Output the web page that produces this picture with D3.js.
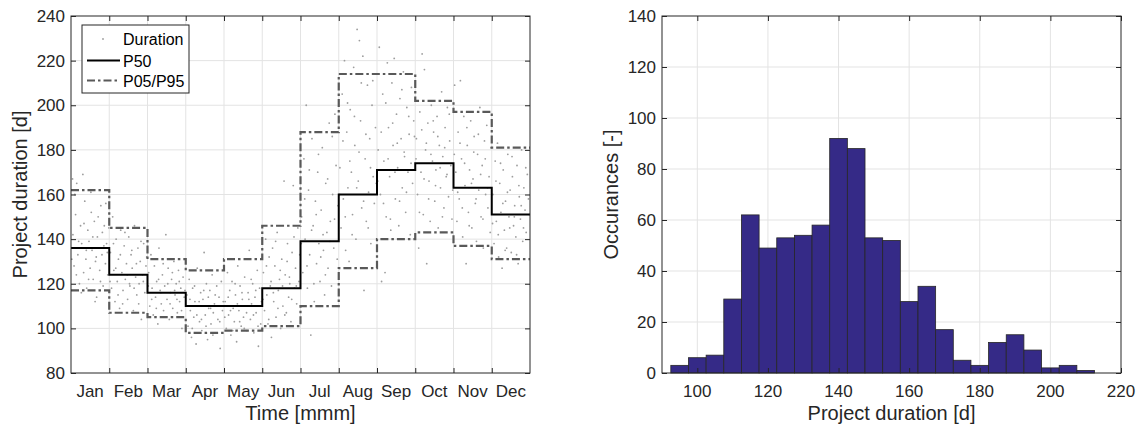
<!DOCTYPE html>
<html>
<head>
<meta charset="utf-8">
<script src="https://cdn.jsdelivr.net/npm/d3@7"></script>
<style>
  body { margin: 0; background: #fff; }
  svg { display: block; font-family: "Liberation Sans", Arial, Helvetica, sans-serif; }
</style>
</head>
<body>
<script>
// Monthly percentiles of project duration (step lines)
const months = ["Jan", "Feb", "Mar", "Apr", "May", "Jun", "Jul", "Aug", "Sep", "Oct", "Nov", "Dec"];
const p50 = [136, 124, 116, 110, 110, 118, 139, 160, 171, 174, 163, 151];
const p95 = [162, 145, 131, 126, 131, 146, 188, 214, 214, 202, 197, 181];
const p05 = [117, 107, 105, 98, 99, 101, 110, 127, 140, 143, 137, 131];

// Individual simulated durations: [month position, duration]
const durations = [
  [0.05,142],[0.08,128],[0.1,160],[0.12,151],[0.15,165],[0.18,133],[0.22,120],[0.25,146],[0.28,138],[0.31,169],[0.33,125],[0.36,157],[0.39,131],[0.41,118],[0.44,144],[0.47,139],[0.5,127],[0.53,152],[0.55,135],[0.58,122],[0.61,148],[0.63,112],[0.64,130],[0.67,114],[0.69,141],[0.72,136],[0.75,126],[0.78,155],[0.81,133],[0.82,143],[0.84,119],[0.87,146],[0.9,129],[0.93,138],[0.96,124],[0.04,167],
  [0.02,131],[0.14,124],[0.2,139],[0.27,116],[0.34,147],[0.4,135],[0.46,122],[0.52,161],[0.57,141],[0.66,132],[0.71,150],[0.77,121],[0.86,137],[0.91,156],[0.95,134],[0.99,145],
  [1.03,134],[1.06,118],[1.09,150],[1.12,126],[1.15,112],[1.18,140],[1.21,121],[1.24,131],[1.27,109],[1.3,144],[1.33,125],[1.36,117],[1.39,137],[1.42,122],[1.45,129],[1.48,113],[1.51,141],[1.54,119],[1.57,133],[1.6,127],[1.63,108],[1.66,146],[1.69,123],[1.72,115],[1.75,136],[1.78,120],[1.81,130],[1.84,104],[1.87,124],[1.9,138],[1.93,116],[1.96,128],
  [1.02,121],[1.11,138],[1.17,127],[1.23,115],[1.29,133],[1.35,111],[1.41,143],[1.47,124],[1.53,120],[1.59,135],[1.65,118],[1.71,129],[1.77,111],[1.83,139],[1.89,121],[1.98,132],
  [2.03,125],[2.06,110],[2.09,133],[2.12,118],[2.15,106],[2.18,128],[2.21,114],[2.24,121],[2.27,102],[2.3,136],[2.33,117],[2.36,111],[2.39,124],[2.42,108],[2.45,119],[2.48,142],[2.51,113],[2.54,127],[2.57,104],[2.6,116],[2.63,122],[2.66,109],[2.69,130],[2.72,115],[2.75,120],[2.78,107],[2.81,126],[2.84,112],[2.87,118],[2.9,100],[2.93,123],[2.96,114],
  [2.02,119],[2.11,113],[2.17,131],[2.23,109],[2.29,122],[2.35,116],[2.41,129],[2.47,105],[2.53,120],[2.59,111],[2.65,125],[2.71,117],[2.77,113],[2.83,121],[2.89,108],[2.98,117],
  [3.03,115],[3.06,101],[3.09,122],[3.12,108],[3.15,96],[3.18,118],[3.21,105],[3.24,112],[3.27,93],[3.3,127],[3.33,110],[3.36,103],[3.39,116],[3.42,99],[3.45,113],[3.48,134],[3.51,106],[3.54,120],[3.57,95],[3.6,109],[3.63,117],[3.66,102],[3.69,124],[3.72,107],[3.75,111],[3.78,98],[3.81,119],[3.84,104],[3.87,114],[3.9,91],[3.93,121],[3.96,108],
  [3.02,110],[3.11,113],[3.17,100],[3.23,119],[3.29,106],[3.35,112],[3.41,104],[3.47,117],[3.53,101],[3.59,114],[3.65,109],[3.71,97],[3.77,115],[3.83,110],[3.89,103],[3.98,112],
  [4.03,112],[4.06,100],[4.09,125],[4.12,106],[4.15,117],[4.18,97],[4.21,121],[4.24,109],[4.27,103],[4.3,115],[4.33,94],[4.36,128],[4.39,108],[4.42,119],[4.45,101],[4.48,113],[4.51,105],[4.54,123],[4.57,110],[4.6,99],[4.63,116],[4.66,135],[4.69,104],[4.72,111],[4.75,120],[4.78,98],[4.81,114],[4.84,107],[4.87,126],[4.9,92],[4.93,118],[4.96,102],
  [4.02,105],[4.11,114],[4.17,108],[4.23,99],[4.29,120],[4.35,111],[4.41,103],[4.47,116],[4.53,100],[4.59,107],[4.65,113],[4.71,122],[4.77,106],[4.83,117],[4.89,101],[4.98,112],
  [5.03,125],[5.06,108],[5.09,140],[5.12,115],[5.15,102],[5.18,132],[5.21,119],[5.24,96],[5.27,136],[5.3,112],[5.33,128],[5.36,105],[5.39,143],[5.42,117],[5.45,122],[5.48,100],[5.51,131],[5.54,110],[5.57,166],[5.6,124],[5.63,107],[5.66,138],[5.69,114],[5.72,120],[5.75,103],[5.78,134],[5.81,164],[5.84,118],[5.87,127],[5.9,111],[5.93,145],[5.96,121],
  [5.02,113],[5.11,128],[5.17,104],[5.23,121],[5.29,116],[5.35,139],[5.41,109],[5.47,126],[5.53,119],[5.59,106],[5.65,130],[5.71,123],[5.77,113],[5.83,141],[5.89,119],[5.98,133],
  [6.03,150],[6.06,125],[6.09,176],[6.12,140],[6.15,200],[6.18,118],[6.21,162],[6.24,133],[6.27,97],[6.3,185],[6.33,146],[6.36,112],[6.39,157],[6.42,129],[6.45,170],[6.48,138],[6.51,121],[6.54,153],[6.57,181],[6.6,135],[6.63,115],[6.66,165],[6.69,143],[6.72,127],[6.75,192],[6.78,148],[6.81,119],[6.84,160],[6.87,136],[6.9,196],[6.93,173],[6.96,131],
  [6.02,138],[6.11,158],[6.17,128],[6.23,171],[6.29,144],[6.35,120],[6.41,151],[6.47,178],[6.53,132],[6.59,142],[6.65,124],[6.71,167],[6.77,139],[6.83,186],[6.89,149],[6.98,155],
  [7.03,172],[7.06,145],[7.09,205],[7.12,158],[7.15,220],[7.18,135],[7.21,188],[7.24,163],[7.27,130],[7.3,198],[7.33,170],[7.36,151],[7.39,217],[7.42,182],[7.45,140],[7.48,234],[7.51,166],[7.54,229],[7.57,193],[7.6,154],[7.63,222],[7.66,117],[7.69,176],[7.72,148],[7.75,209],[7.78,161],[7.81,185],[7.84,138],[7.87,200],[7.9,168],[7.93,156],[7.96,190],
  [7.02,160],[7.11,184],[7.17,150],[7.23,201],[7.29,175],[7.35,142],[7.41,195],[7.47,163],[7.53,179],[7.59,210],[7.65,157],[7.71,187],[7.77,145],[7.83,172],[7.89,211],[7.98,165],
  [8.03,180],[8.06,226],[8.09,160],[8.12,121],[8.15,205],[8.18,175],[8.21,125],[8.24,150],[8.27,219],[8.3,190],[8.33,168],[8.36,144],[8.39,210],[8.42,182],[8.45,221],[8.48,158],[8.51,196],[8.54,172],[8.57,146],[8.6,203],[8.63,185],[8.66,163],[8.69,215],[8.72,177],[8.75,152],[8.78,199],[8.81,170],[8.84,187],[8.87,142],[8.9,208],[8.93,165],[8.96,193],
  [8.02,166],[8.11,188],[8.17,156],[8.23,201],[8.29,176],[8.35,149],[8.41,192],[8.47,170],[8.53,183],[8.59,157],[8.65,207],[8.71,179],[8.77,161],[8.83,195],[8.89,174],[8.98,186],
  [9.03,185],[9.06,160],[9.09,136],[9.12,197],[9.15,170],[9.18,223],[9.21,151],[9.24,216],[9.27,180],[9.3,129],[9.33,192],[9.36,166],[9.39,148],[9.42,200],[9.45,175],[9.48,188],[9.51,157],[9.54,171],[9.57,195],[9.6,145],[9.63,182],[9.66,163],[9.69,206],[9.72,177],[9.75,154],[9.78,190],[9.81,168],[9.84,199],[9.87,159],[9.9,184],[9.93,173],[9.96,149],
  [9.02,176],[9.11,152],[9.17,189],[9.23,167],[9.29,183],[9.35,158],[9.41,178],[9.47,193],[9.53,164],[9.59,186],[9.65,172],[9.71,150],[9.77,181],[9.83,169],[9.89,196],[9.98,162],
  [10.03,209],[10.06,170],[10.09,148],[10.12,188],[10.15,158],[10.18,211],[10.21,176],[10.24,141],[10.27,195],[10.3,164],[10.33,129],[10.36,182],[10.39,152],[10.42,171],[10.45,193],[10.48,145],[10.51,167],[10.54,186],[10.57,156],[10.6,139],[10.63,178],[10.66,162],[10.69,199],[10.72,150],[10.75,173],[10.78,136],[10.81,184],[10.84,160],[10.87,191],[10.9,154],[10.93,168],[10.96,143],
  [10.02,178],[10.11,161],[10.17,183],[10.23,154],[10.29,174],[10.35,190],[10.41,146],[10.47,165],[10.53,179],[10.59,158],[10.65,187],[10.71,169],[10.77,149],[10.83,176],[10.89,163],[10.98,181],
  [11.03,160],[11.06,138],[11.09,175],[11.12,148],[11.15,183],[11.18,132],[11.21,165],[11.24,152],[11.27,127],[11.3,171],[11.33,144],[11.36,157],[11.39,136],[11.42,178],[11.45,150],[11.48,162],[11.51,134],[11.54,168],[11.57,146],[11.6,155],[11.63,141],[11.66,173],[11.69,129],[11.72,159],[11.75,149],[11.78,180],[11.81,139],[11.84,163],[11.87,153],[11.9,143],[11.93,169],[11.96,158],
  [11.02,147],[11.11,166],[11.17,142],[11.23,174],[11.29,156],[11.35,135],[11.41,161],[11.47,145],[11.53,177],[11.59,150],[11.65,133],[11.71,164],[11.77,155],[11.83,145],[11.89,172],[11.98,151]
];

// Histogram of project duration
const binEdges = [92.5, 97.5, 102.5, 107.5, 112.5, 117.5, 122.5, 127.5, 132.5, 137.5, 142.5, 147.5, 152.5,
                  157.5, 162.5, 167.5, 172.5, 177.5, 182.5, 187.5, 192.5, 197.5, 202.5, 207.5, 212.5];
const counts = [3, 6, 7, 29, 62, 49, 53, 54, 58, 92, 88, 53, 52, 28, 34, 17, 5, 3, 12, 15, 9, 2, 3, 1];

const leftYTicks = [80, 100, 120, 140, 160, 180, 200, 220, 240];
const rightXTicks = [100, 120, 140, 160, 180, 200, 220];
const rightYTicks = [0, 20, 40, 60, 80, 100, 120, 140];

const W = 1144, H = 427;
const axisColor = "#262626";
const gridColor = "#e3e3e3";
const tickLen = 5;
const dashDot = "8,3,2.5,3";

const svg = d3.select("body").append("svg")
    .attr("width", W)
    .attr("height", H);

// Scales
const xL = d3.scaleLinear().domain([0, 12]).range([71, 530]);
const yL = d3.scaleLinear().domain([80, 240]).range([373, 16]);
const xR = d3.scaleLinear().domain([90, 220]).range([662, 1121]);
const yR = d3.scaleLinear().domain([0, 140]).range([373, 16]);

// Draws grid lines for an axes box
function drawGrid(g, x, y, xGrid, yGrid) {
    g.append("g").selectAll("line").data(xGrid).enter().append("line")
        .attr("x1", d => x(d)).attr("x2", d => x(d))
        .attr("y1", y.range()[0]).attr("y2", y.range()[1])
        .attr("stroke", gridColor).attr("stroke-width", 1);
    g.append("g").selectAll("line").data(yGrid).enter().append("line")
        .attr("y1", d => y(d)).attr("y2", d => y(d))
        .attr("x1", x.range()[0]).attr("x2", x.range()[1])
        .attr("stroke", gridColor).attr("stroke-width", 1);
}

// Draws box with inward ticks on all four sides (matlab style)
function drawBox(g, x, y, xTickVals, yTickVals) {
    const [x0, x1] = x.range();
    const [y0, y1] = y.range();
    const gb = g.append("g").attr("transform", `translate(0,${y0})`)
        .call(d3.axisBottom(x).tickValues(xTickVals).tickSize(-tickLen).tickFormat(""));
    const gt = g.append("g").attr("transform", `translate(0,${y1})`)
        .call(d3.axisTop(x).tickValues(xTickVals).tickSize(-tickLen).tickFormat(""));
    const gl = g.append("g").attr("transform", `translate(${x0},0)`)
        .call(d3.axisLeft(y).tickValues(yTickVals).tickSize(-tickLen).tickFormat(""));
    const gr = g.append("g").attr("transform", `translate(${x1},0)`)
        .call(d3.axisRight(y).tickValues(yTickVals).tickSize(-tickLen).tickFormat(""));
    [gb, gt, gl, gr].forEach(a => {
        a.select(".domain").remove();
        a.selectAll("line").attr("stroke", axisColor).attr("stroke-width", 1);
    });
    g.append("rect")
        .attr("x", x0).attr("y", y1)
        .attr("width", x1 - x0).attr("height", y0 - y1)
        .attr("fill", "none")
        .attr("stroke", axisColor)
        .attr("stroke-width", 1);
}

// ---------- Left panel ----------
const left = svg.append("g");
drawGrid(left, xL, yL, d3.range(1, 12), [100, 120, 140, 160, 180, 200, 220]);

left.append("g").selectAll("circle")
    .data(durations)
    .enter().append("circle")
    .attr("cx", d => xL(d[0]))
    .attr("cy", d => yL(d[1]))
    .attr("r", 0.9)
    .attr("fill", "#9d9d9d");

const stepLine = d3.line()
    .x((d, i) => xL(i))
    .y(d => yL(d))
    .curve(d3.curveStepAfter);

function extend(arr) { return arr.concat([arr[arr.length - 1]]); }

[p95, p05].forEach(s => {
    left.append("path")
        .datum(extend(s))
        .attr("d", stepLine)
        .attr("fill", "none")
        .attr("stroke", "#595959")
        .attr("stroke-width", 2.2)
        .attr("stroke-dasharray", dashDot);
});
left.append("path")
    .datum(extend(p50))
    .attr("d", stepLine)
    .attr("fill", "none")
    .attr("stroke", "#000")
    .attr("stroke-width", 2);

drawBox(left, xL, yL, d3.range(1, 12), leftYTicks);

// tick labels
left.append("g").selectAll("text").data(months).enter().append("text")
    .attr("x", (d, i) => xL(i + 0.5))
    .attr("y", 397)
    .attr("text-anchor", "middle")
    .attr("font-size", 17)
    .attr("fill", axisColor)
    .text(d => d);
left.append("g").selectAll("text").data(leftYTicks).enter().append("text")
    .attr("x", 65)
    .attr("y", d => yL(d) + 6)
    .attr("text-anchor", "end")
    .attr("font-size", 17)
    .attr("fill", axisColor)
    .text(d => d);

left.append("text")
    .attr("x", (xL.range()[0] + xL.range()[1]) / 2)
    .attr("y", 420)
    .attr("text-anchor", "middle")
    .attr("font-size", 20)
    .attr("fill", axisColor)
    .text("Time [mmm]");
left.append("text")
    .attr("transform", `translate(27,${(yL.range()[0] + yL.range()[1]) / 2}) rotate(-90)`)
    .attr("text-anchor", "middle")
    .attr("font-size", 20)
    .attr("fill", axisColor)
    .text("Project duration [d]");

// legend
const legend = left.append("g");
legend.append("rect")
    .attr("x", 82).attr("y", 25).attr("width", 107).attr("height", 68)
    .attr("fill", "#fff").attr("stroke", axisColor).attr("stroke-width", 1);
legend.append("circle").attr("cx", 103).attr("cy", 39).attr("r", 0.9).attr("fill", "#9d9d9d");
legend.append("line").attr("x1", 87).attr("x2", 120).attr("y1", 60.5).attr("y2", 60.5)
    .attr("stroke", "#000").attr("stroke-width", 2);
legend.append("line").attr("x1", 87).attr("x2", 120).attr("y1", 80.5).attr("y2", 80.5)
    .attr("stroke", "#595959").attr("stroke-width", 2.2).attr("stroke-dasharray", dashDot);
[["Duration", 39], ["P50", 60.5], ["P05/P95", 80.5]].forEach(([t, y]) => {
    legend.append("text")
        .attr("x", 123).attr("y", y + 6)
        .attr("font-size", 16)
        .attr("fill", "#000")
        .text(t);
});

// ---------- Right panel ----------
const right = svg.append("g");
drawGrid(right, xR, yR, [100, 120, 140, 160, 180, 200], [20, 40, 60, 80, 100, 120]);

right.append("g").selectAll("rect")
    .data(counts)
    .enter().append("rect")
    .attr("x", (d, i) => xR(binEdges[i]))
    .attr("width", (d, i) => xR(binEdges[i + 1]) - xR(binEdges[i]))
    .attr("y", d => yR(d))
    .attr("height", d => yR(0) - yR(d))
    .attr("fill", "#352a87")
    .attr("stroke", "#262626")
    .attr("stroke-width", 0.8);

drawBox(right, xR, yR, rightXTicks, rightYTicks);

right.append("g").selectAll("text").data(rightXTicks).enter().append("text")
    .attr("x", d => xR(d))
    .attr("y", 397)
    .attr("text-anchor", "middle")
    .attr("font-size", 17)
    .attr("fill", axisColor)
    .text(d => d);
right.append("g").selectAll("text").data(rightYTicks).enter().append("text")
    .attr("x", 656)
    .attr("y", d => yR(d) + 6)
    .attr("text-anchor", "end")
    .attr("font-size", 17)
    .attr("fill", axisColor)
    .text(d => d);

right.append("text")
    .attr("x", (xR.range()[0] + xR.range()[1]) / 2)
    .attr("y", 420)
    .attr("text-anchor", "middle")
    .attr("font-size", 20)
    .attr("fill", axisColor)
    .text("Project duration [d]");
right.append("text")
    .attr("transform", `translate(618,${(yR.range()[0] + yR.range()[1]) / 2}) rotate(-90)`)
    .attr("text-anchor", "middle")
    .attr("font-size", 20)
    .attr("fill", axisColor)
    .text("Occurances [-]");
</script>
</body>
</html>
